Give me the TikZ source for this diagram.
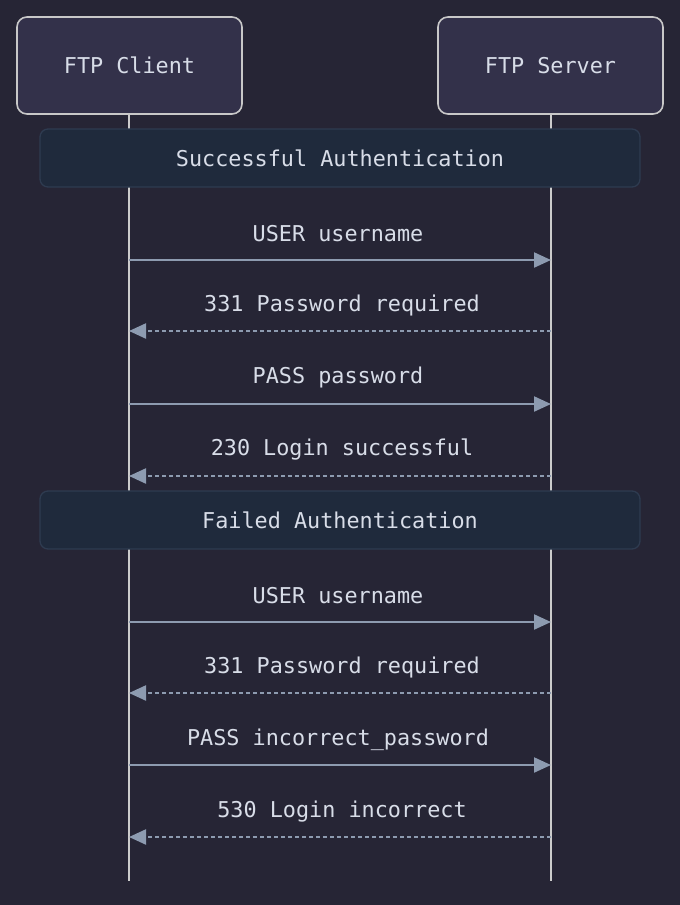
\documentclass[tikz,border=0pt]{standalone}
\usepackage{fontspec}
\setmonofont{DejaVu Sans Mono}
\usetikzlibrary{arrows.meta}
\definecolor{bgc}{HTML}{262535}
\definecolor{actfill}{HTML}{33314A}
\definecolor{actdraw}{HTML}{C8C8C8}
\definecolor{notefill}{HTML}{1F2A3C}
\definecolor{notedraw}{HTML}{2E3B50}
\definecolor{txt}{HTML}{D8DDE8}
\definecolor{msgc}{HTML}{8D9BB0}
\definecolor{lifec}{HTML}{CCCCCC}
\tikzset{
  actor/.style={draw=actdraw, fill=actfill, line width=1.6pt, rounded corners=10pt, minimum width=225pt, minimum height=97pt, text=txt, font=\ttfamily\fontsize{21.8}{26}\selectfont},
  notebox/.style={draw=notedraw, fill=notefill, line width=1.3pt, rounded corners=8pt, minimum width=600pt, minimum height=58pt, text=txt, font=\ttfamily\fontsize{21.8}{26}\selectfont},
  lifeline/.style={draw=lifec, line width=2.4pt},
  msg/.style={draw=msgc, line width=2.2pt, -{Triangle[length=17pt,width=15pt]}},
  reply/.style={msg, dash pattern=on 4pt off 3pt},
  lbl/.style={text=txt, font=\ttfamily\fontsize{21.8}{26}\selectfont, inner sep=0pt}
}
\begin{document}
\begin{tikzpicture}[x=1pt,y=-1pt]
\fill[bgc] (0,0) rectangle (680,905);
\useasboundingbox (0,0) rectangle (680,905);
\node[actor] (client) at (129.5,65.5) {FTP Client};
\node[actor] (server) at (550.5,65.5) {FTP Server};
\coordinate (cend) at (129,881);
\coordinate (send) at (551,881);
\draw[lifeline] (client.south -| cend) -- (cend);
\draw[lifeline] (server.south -| send) -- (send);
\node[notebox] (n1) at (340,158) {Successful Authentication};
\node[notebox] (n2) at (340,520) {Failed Authentication};
% messages
\foreach \i/\y in {1/260,2/331,3/404,4/476,5/622,6/693,7/765,8/837}{
  \coordinate (c\i) at (129,\y);
  \coordinate (s\i) at (551,\y);
}
\draw[msg] (c1) -- (s1);
\draw[reply] (s2) -- (c2);
\draw[msg] (c3) -- (s3);
\draw[reply] (s4) -- (c4);
\draw[msg] (c5) -- (s5);
\draw[reply] (s6) -- (c6);
\draw[msg] (c7) -- (s7);
\draw[reply] (s8) -- (c8);
\node[lbl] (l1) at (338,233.5) {USER username};
\node[lbl] (l2) at (342,305.5) {331 Password required};
\node[lbl] (l3) at (338,377.5) {PASS password};
\node[lbl] (l4) at (342,449.5) {230 Login successful};
\node[lbl] (l5) at (338,595.5) {USER username};
\node[lbl] (l6) at (342,667.5) {331 Password required};
\node[lbl] (l7) at (338,739.5) {PASS incorrect\_password};
\node[lbl] (l8) at (342,811.5) {530 Login incorrect};
\end{tikzpicture}
\end{document}
